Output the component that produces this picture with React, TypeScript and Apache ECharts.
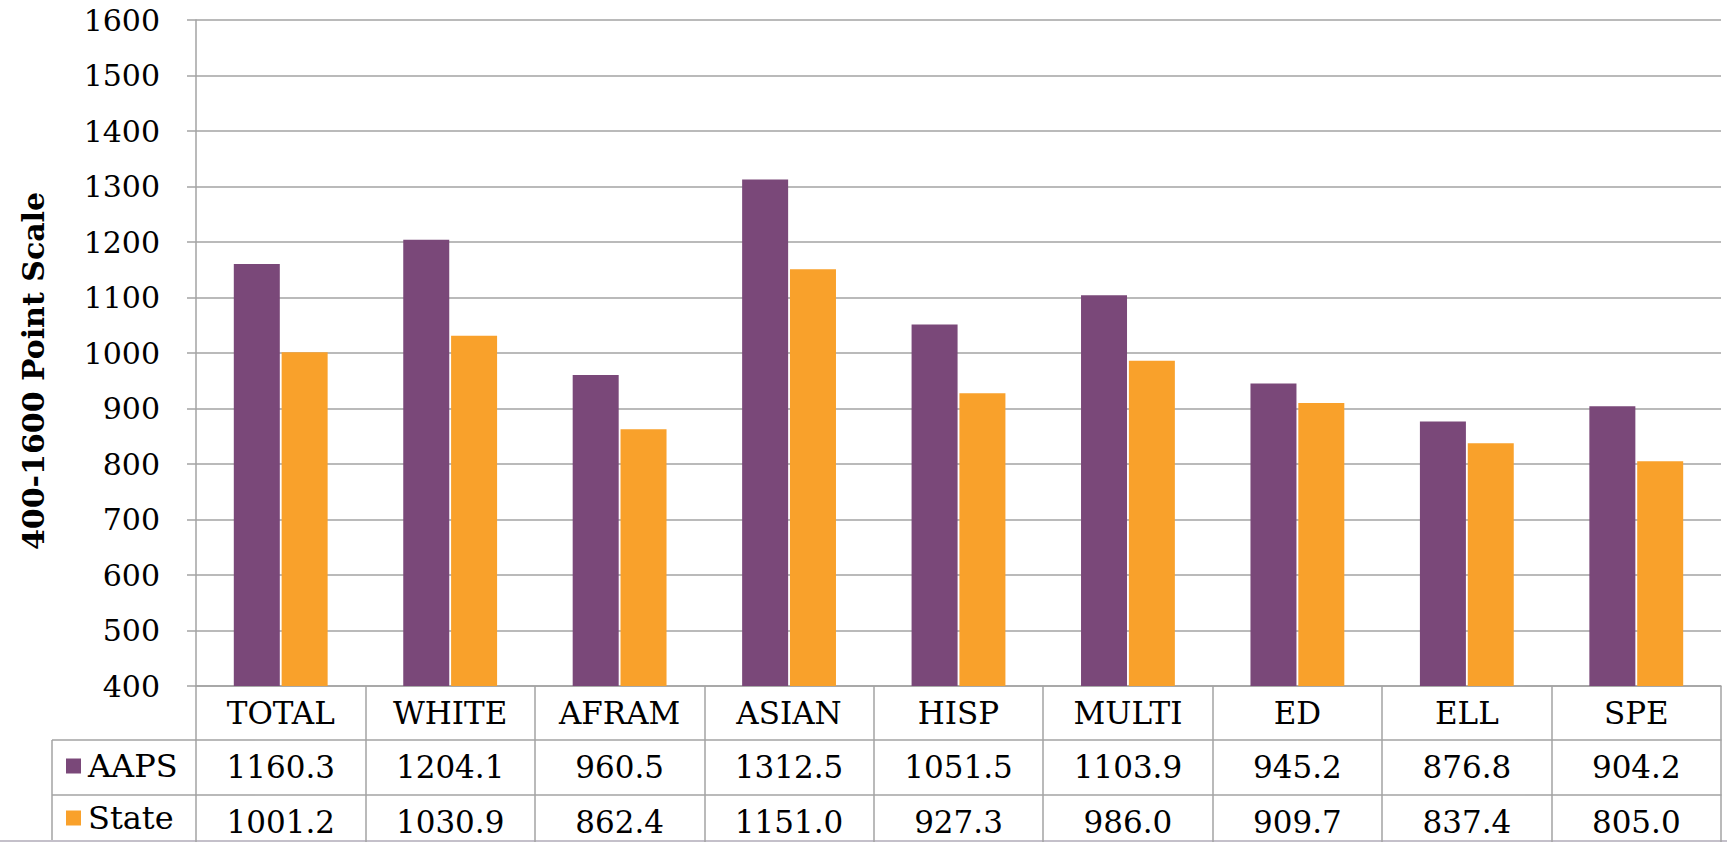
import React, { useEffect, useRef } from "react";
import * as echarts from "echarts";

const categories = ["TOTAL", "WHITE", "AFRAM", "ASIAN", "HISP", "MULTI", "ED", "ELL", "SPE"];
const aapsValues = [1160.3, 1204.1, 960.5, 1312.5, 1051.5, 1103.9, 945.2, 876.8, 904.2];
const stateValues = [1001.2, 1030.9, 862.4, 1151.0, 927.3, 986.0, 909.7, 837.4, 805.0];
const seriesNames = ["AAPS", "State"];
const yAxisTitle = "400-1600 Point Scale";
const yMin = 400;
const yMax = 1600;
const yStep = 100;

const FONT = "'DejaVu Serif', serif";
const FS = 30;
const GRID_COLOR = "#a3a3a3";
const PURPLE = "#7a4879";
const ORANGE = "#f9a12b";

export default function App() {
  const ref = useRef<HTMLDivElement>(null);

  useEffect(() => {
    if (!ref.current) return;
    const chart = echarts.init(ref.current, null, { renderer: "svg" });
    const gridLeft = 196;
    const gridRight = 6;
    const gridTop = 20;
    const gridBottom = 156;
    const W = 1727;
    const rowH = 54;

    const tableAxis = (offset: number, values: number[] | null, tickLen: number) => ({
      type: "category",
      data: categories,
      position: "bottom",
      offset,
      axisLine: { show: true, lineStyle: { color: GRID_COLOR, width: 1.5 } },
      axisTick: { show: true, length: tickLen, interval: 0, alignWithLabel: false, lineStyle: { color: GRID_COLOR, width: 1.5 } },
      axisLabel: {
        show: true,
        interval: 0,
        margin: 11,
        color: "#000",
        fontFamily: FONT,
        fontSize: 31,
        formatter: values ? (_v: string, i: number) => values[i].toFixed(1) : undefined,
      },
      splitLine: { show: false },
    });

    const legendFor = (name: string, top: number) => ({
      orient: "horizontal",
      left: 66,
      top,
      itemWidth: 15,
      itemHeight: 15,
      itemGap: 0,
      icon: "rect",
      data: [name],
      padding: 0,
      textStyle: { fontFamily: FONT, fontSize: 32, color: "#000", padding: [0, 0, 0, 2] },
    });

    chart.setOption({
      animation: false,
      backgroundColor: "#fff",
      grid: { left: gridLeft, right: gridRight, top: gridTop, bottom: gridBottom, containLabel: false },
      legend: [legendFor(seriesNames[0], 750), legendFor(seriesNames[1], 802)],
      xAxis: [
        tableAxis(0, null, rowH),
        tableAxis(rowH, aapsValues, rowH + 1),
        tableAxis(rowH * 2 + 1, stateValues, 50),
      ],
      yAxis: {
        type: "value",
        min: yMin,
        max: yMax,
        interval: yStep,
        axisLine: { show: true, lineStyle: { color: GRID_COLOR, width: 1.5 } },
        axisTick: { show: true, length: 9, lineStyle: { color: GRID_COLOR, width: 1.5 } },
        axisLabel: { color: "#000", fontFamily: FONT, fontSize: FS, margin: 36, formatter: (v: number) => String(v) },
        splitLine: { show: true, lineStyle: { color: GRID_COLOR, width: 1.5 } },
      },
      series: [
        {
          name: seriesNames[0],
          type: "bar",
          data: aapsValues,
          barWidth: 46,
          barGap: "4%",
          itemStyle: { color: PURPLE },
        },
        {
          name: seriesNames[1],
          type: "bar",
          data: stateValues,
          barWidth: 46,
          itemStyle: { color: ORANGE },
        },
      ],
      graphic: [
        {
          type: "text",
          x: 33,
          y: 371,
          rotation: Math.PI / 2,
          style: {
            text: yAxisTitle,
            fontFamily: FONT,
            fontWeight: "bold",
            fontSize: 30,
            fill: "#000",
            align: "center",
            verticalAlign: "middle",
          },
        },
        { type: "line", shape: { x1: 52, y1: 740, x2: gridLeft, y2: 740 }, style: { stroke: GRID_COLOR, lineWidth: 1.5 } },
        { type: "line", shape: { x1: 52, y1: 795, x2: gridLeft, y2: 795 }, style: { stroke: GRID_COLOR, lineWidth: 1.5 } },
        { type: "line", shape: { x1: 52, y1: 740, x2: 52, y2: 842 }, style: { stroke: GRID_COLOR, lineWidth: 1.5 } },
        { type: "line", shape: { x1: 0, y1: 841, x2: W, y2: 841 }, style: { stroke: "#c4c0ca", lineWidth: 2 } },
      ],
    });

    return () => chart.dispose();
  }, []);

  return (
    <div
      ref={ref}
      style={{ position: "fixed", left: 0, top: 0, width: 1727, height: 842 }}
    />
  );
}
